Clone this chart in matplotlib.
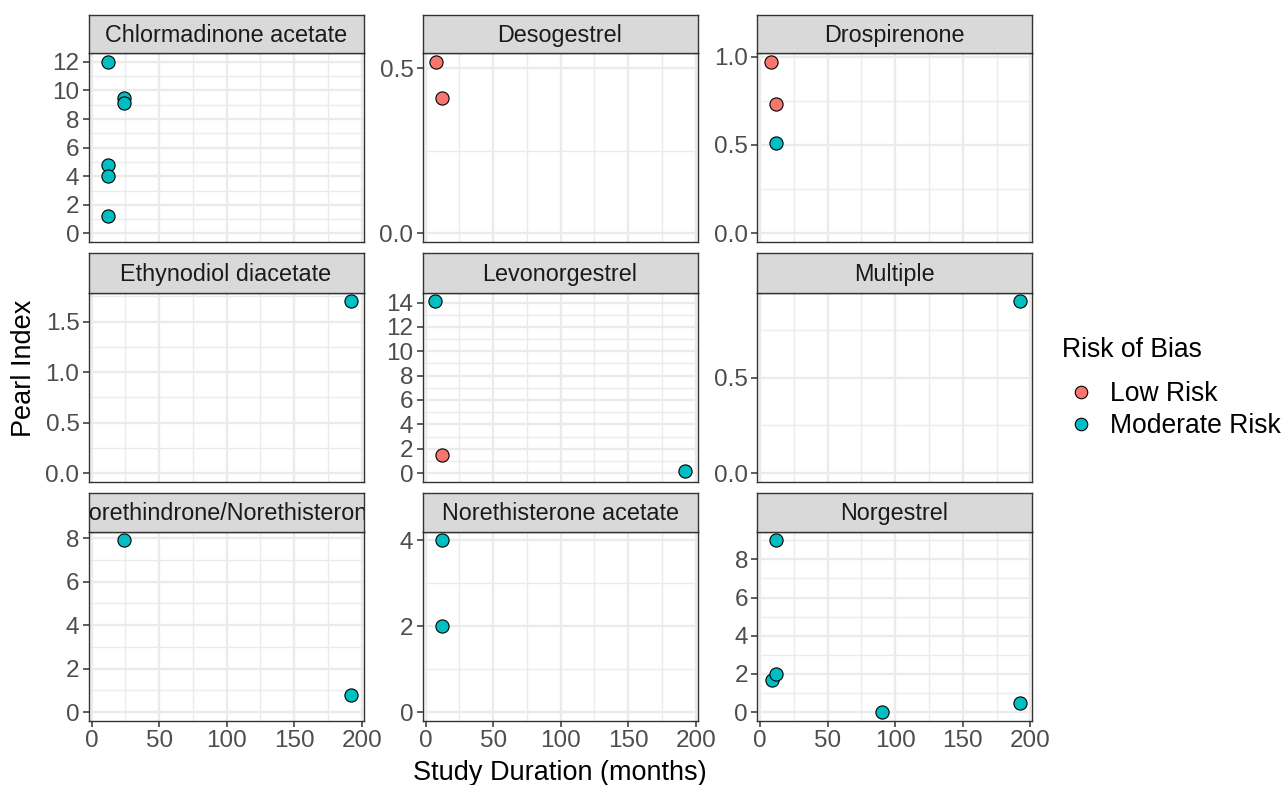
import matplotlib
matplotlib.use("Agg")
import matplotlib.pyplot as plt
from matplotlib.lines import Line2D
import numpy as np

plt.rcParams['font.family'] = ['Liberation Sans', 'DejaVu Sans']

# ---------------- data ----------------
panels = ["Chlormadinone acetate", "Desogestrel", "Drospirenone",
          "Ethynodiol diacetate", "Levonorgestrel", "Multiple",
          "Norethindrone/Norethisterone", "Norethisterone acetate", "Norgestrel"]

risk_levels = ["Low Risk", "Moderate Risk"]
risk_colors = ["#F8766D", "#00BFC4"]

study_progestin = (["Chlormadinone acetate"] * 6 + ["Desogestrel"] * 2 +
                   ["Drospirenone"] * 3 + ["Ethynodiol diacetate"] +
                   ["Levonorgestrel"] * 3 + ["Multiple"] +
                   ["Norethindrone/Norethisterone"] * 2 +
                   ["Norethisterone acetate"] * 2 + ["Norgestrel"] * 5)
study_duration = [12, 24, 24, 12, 12, 12,
                  8, 12,
                  8, 12, 12,
                  192,
                  7, 12, 192,
                  192,
                  24, 192,
                  12, 12,
                  12, 9, 12, 90, 192]
study_pearl = [12.0, 9.5, 9.1, 4.8, 4.0, 1.2,
               0.52, 0.41,
               0.97, 0.73, 0.51,
               1.7,
               14.1, 1.5, 0.15,
               0.9,
               7.9, 0.8,
               4.0, 2.0,
               9.0, 1.7, 2.0, 0.0, 0.5]
study_risk = ["Moderate Risk"] * 6 + ["Low Risk"] * 2 + \
             ["Low Risk", "Low Risk", "Moderate Risk"] + ["Moderate Risk"] + \
             ["Moderate Risk", "Low Risk", "Moderate Risk"] + ["Moderate Risk"] + \
             ["Moderate Risk"] * 2 + ["Moderate Risk"] * 2 + ["Moderate Risk"] * 5

x_ticks = [0, 50, 100, 150, 200]
y_ticks = {
    "Chlormadinone acetate": [0, 2, 4, 6, 8, 10, 12],
    "Desogestrel": [0.0, 0.5],
    "Drospirenone": [0.0, 0.5, 1.0],
    "Ethynodiol diacetate": [0.0, 0.5, 1.0, 1.5],
    "Levonorgestrel": [0, 2, 4, 6, 8, 10, 12, 14],
    "Multiple": [0.0, 0.5],
    "Norethindrone/Norethisterone": [0, 2, 4, 6, 8],
    "Norethisterone acetate": [0, 2, 4],
    "Norgestrel": [0, 2, 4, 6, 8],
}

# ---------------- layout ----------------
W, H = 1285, 785
fig = plt.figure(figsize=(W / 100, H / 100), dpi=100)

col_px = [(88.5, 363.5), (422.5, 697.5), (757.0, 1032.0)]
row_px = [(14.7, 53.3, 242.0), (253.3, 292.7, 481.7), (493.3, 531.7, 720.7)]

def frac_box(x0, x1, ytop, ybot):
    return [x0 / W, 1 - ybot / H, (x1 - x0) / W, (ybot - ytop) / H]

dur = np.array(study_duration, dtype=float)
pearl = np.array(study_pearl, dtype=float)
prog = np.array(study_progestin)
risk = np.array(study_risk)

xmin, xmax = dur.min(), dur.max()
xr = xmax - xmin
xlim = (xmin - 0.05 * xr, xmax + 0.05 * xr)

border = "#333333"
grid_col = "#EBEBEB"
tick_col = "#4D4D4D"

def minor_between(ticks, lim):
    t = list(ticks)
    step = t[1] - t[0]
    cands = [t[0] - step / 2] + [a + step / 2 for a in t]
    return [c for c in cands if lim[0] < c < lim[1]]

for i, name in enumerate(panels):
    r, c = divmod(i, 3)
    x0, x1 = col_px[c]
    st, sb, pb = row_px[r]
    ax = fig.add_axes(frac_box(x0, x1, sb, pb))
    sax = fig.add_axes(frac_box(x0, x1, st, sb))

    m = prog == name
    yv = pearl[m]
    lo = min(0.0, yv.min())
    hi = yv.max()
    yr = hi - lo
    ylim = (lo - 0.05 * yr, hi + 0.05 * yr)

    ax.set_xlim(*xlim)
    ax.set_ylim(*ylim)

    yt = y_ticks[name]
    # grid
    for v in minor_between(x_ticks, xlim):
        ax.axvline(v, color=grid_col, lw=1.0, zorder=0)
    for v in minor_between(yt, ylim):
        ax.axhline(v, color=grid_col, lw=1.0, zorder=0)
    for v in x_ticks:
        ax.axvline(v, color=grid_col, lw=1.7, zorder=0)
    for v in yt:
        ax.axhline(v, color=grid_col, lw=1.7, zorder=0)

    for lvl, col in zip(risk_levels, risk_colors):
        mm = m & (risk == lvl)
        if mm.any():
            ax.scatter(dur[mm], pearl[mm], s=90, c=col, edgecolors="black",
                       linewidths=0.8, zorder=3, clip_on=False)

    ax.set_yticks(yt)
    if all(float(v).is_integer() for v in yt):
        ax.set_yticklabels([f"{int(v)}" for v in yt])
    else:
        ax.set_yticklabels([f"{v:.1f}" for v in yt])
    ax.set_xticks(x_ticks)
    if r == 2:
        ax.set_xticklabels([str(v) for v in x_ticks])
    else:
        ax.tick_params(axis="x", bottom=False, labelbottom=False)
    ax.tick_params(axis="both", length=4.5, width=1.1, color=border,
                   labelcolor=tick_col, labelsize=17.5, pad=2.0)
    for sp in ax.spines.values():
        sp.set_color(border)
        sp.set_linewidth(1.0)
        sp.set_zorder(5)

    sax.set_facecolor("#D9D9D9")
    sax.set_xticks([])
    sax.set_yticks([])
    for sp in sax.spines.values():
        sp.set_color(border)
        sp.set_linewidth(1.0)
    sax.text(0.5, 0.47, name, ha="center", va="center", fontsize=16.8,
             color="#1A1A1A", transform=sax.transAxes, clip_on=True)

fig.text(560 / W, 1 - 773 / H, "Study Duration (months)", ha="center",
         va="center", fontsize=19.5, color="black")
fig.text(24 / W, 1 - 368 / H, "Pearl Index", ha="center", va="center",
         rotation=90, fontsize=19.5, color="black")

# legend
fig.text(1062 / W, 1 - 350 / H, "Risk of Bias", ha="left", va="center",
         fontsize=19.1, color="black")
handles = [Line2D([], [], marker="o", linestyle="", markersize=9.0,
                  markerfacecolor=col, markeredgecolor="black",
                  markeredgewidth=0.8) for col in risk_colors]
leg = fig.legend(handles, risk_levels,
                 loc="upper left", bbox_to_anchor=(1068 / W, 1 - 381 / H),
                 frameon=False, fontsize=19.1,
                 handlelength=1.0, handletextpad=0.6, labelspacing=0.24,
                 borderaxespad=0, borderpad=0)

fig.savefig("out.png", dpi=100)
